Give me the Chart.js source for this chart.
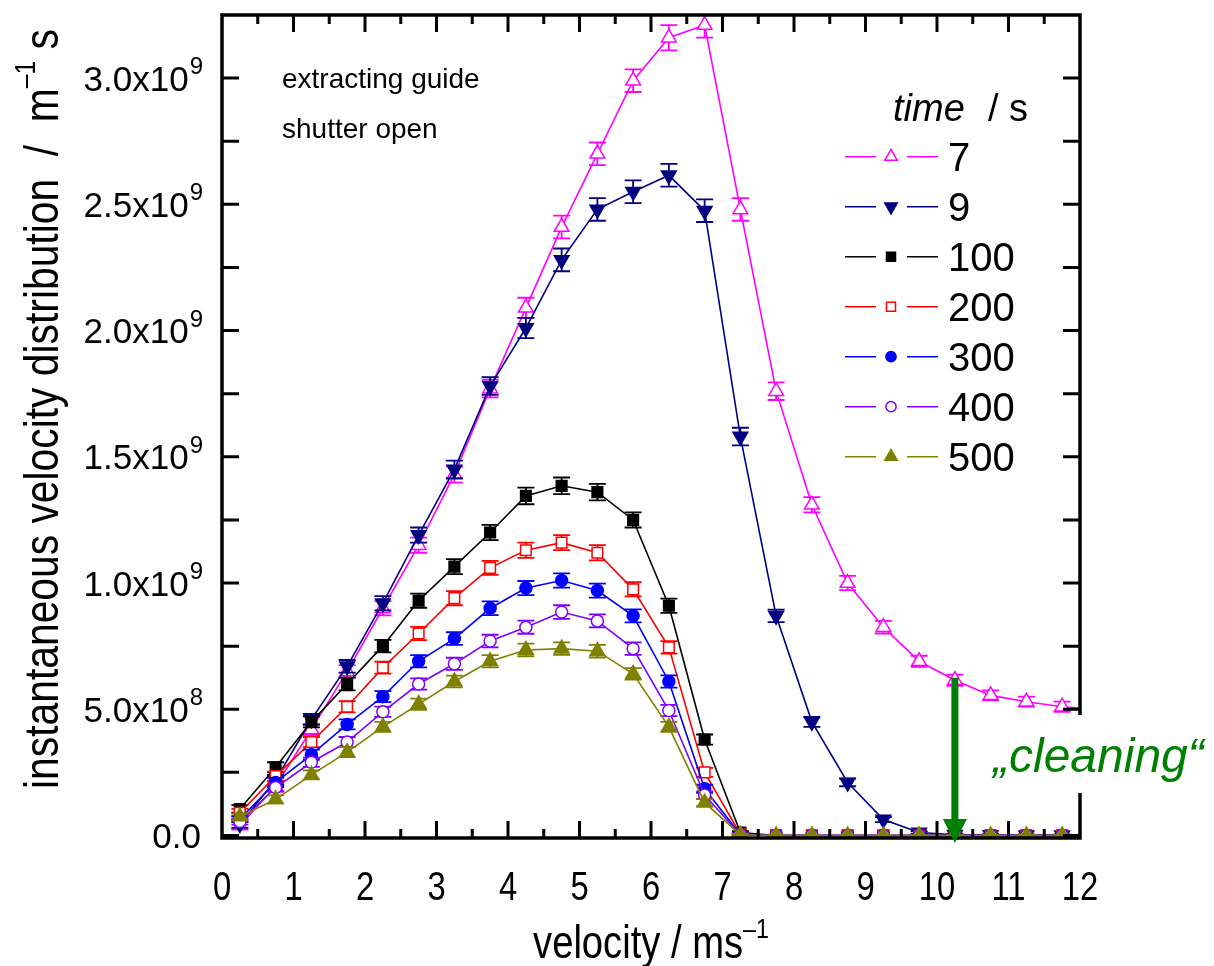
<!DOCTYPE html>
<html>
<head>
<meta charset="utf-8">
<title>instantaneous velocity distribution</title>
<script src="https://cdn.jsdelivr.net/npm/chart.js@4/dist/chart.umd.min.js"></script>
<style>
  html, body { margin: 0; padding: 0; background: #fff; }
  #wrap { width: 1214px; height: 966px; }
</style>
</head>
<body>
<div id="wrap"><canvas id="velChart" width="1214" height="966"></canvas></div>
<script>
// velocity bin centres in m/s
const velocity = [0.25, 0.75, 1.25, 1.75, 2.25, 2.75, 3.25, 3.75, 4.25, 4.75, 5.25, 5.75,
                  6.25, 6.75, 7.25, 7.75, 8.25, 8.75, 9.25, 9.75, 10.25, 10.75, 11.25, 11.75, 12.25];

// storage time of each curve (s)
const timeLabels = ['7', '9', '100', '200', '300', '400', '500'];

// distribution values and their errors, in units of 1e9 m^-1 s
const dist7   = [0.040, 0.195, 0.420, 0.650, 0.900, 1.150, 1.430, 1.770, 2.090, 2.410, 2.700, 2.990,
                 3.160, 3.210, 2.480, 1.760, 1.310, 1.000, 0.825, 0.690, 0.615, 0.555, 0.530, 0.510, 0.500];
const err7    = [0.015, 0.020, 0.022, 0.025, 0.028, 0.030, 0.032, 0.035, 0.040, 0.045, 0.045, 0.045,
                 0.050, 0.050, 0.045, 0.035, 0.030, 0.028, 0.025, 0.022, 0.022, 0.020, 0.020, 0.020, 0.020];

const dist9   = [0.045, 0.220, 0.460, 0.670, 0.920, 1.190, 1.450, 1.780, 2.010, 2.280, 2.480, 2.550,
                 2.615, 2.475, 1.580, 0.870, 0.450, 0.210, 0.063, 0.012, 0.003, 0.002, 0.001, 0.001, 0.001];
const err9    = [0.015, 0.020, 0.022, 0.025, 0.028, 0.030, 0.035, 0.035, 0.040, 0.045, 0.045, 0.045,
                 0.045, 0.045, 0.035, 0.025, 0.020, 0.015, 0.010, 0.005, 0.003, 0.003, 0.003, 0.003, 0.003];

const dist100 = [0.105, 0.270, 0.450, 0.600, 0.750, 0.930, 1.065, 1.200, 1.345, 1.385, 1.360, 1.250,
                 0.910, 0.380, 0.012, 0, 0, 0, 0, 0, 0, 0, 0, 0, 0];
const err100  = [0.015, 0.020, 0.022, 0.025, 0.025, 0.028, 0.030, 0.030, 0.033, 0.033, 0.033, 0.030,
                 0.028, 0.020, 0.005, 0.002, 0.002, 0.002, 0.002, 0.002, 0.002, 0.002, 0.002, 0.002, 0.002];

const dist200 = [0.090, 0.235, 0.370, 0.510, 0.665, 0.800, 0.940, 1.060, 1.130, 1.160, 1.120, 0.975,
                 0.745, 0.250, 0.005, 0, 0, 0, 0, 0, 0, 0, 0, 0, 0];
const err200  = [0.015, 0.018, 0.020, 0.022, 0.024, 0.026, 0.028, 0.028, 0.030, 0.030, 0.030, 0.028,
                 0.025, 0.018, 0.004, 0.002, 0.002, 0.002, 0.002, 0.002, 0.002, 0.002, 0.002, 0.002, 0.002];

const dist300 = [0.065, 0.210, 0.320, 0.440, 0.550, 0.690, 0.780, 0.900, 0.980, 1.010, 0.970, 0.870,
                 0.610, 0.185, 0.004, 0, 0, 0, 0, 0, 0, 0, 0, 0, 0];
const err300  = [0.012, 0.018, 0.020, 0.020, 0.022, 0.024, 0.025, 0.027, 0.028, 0.028, 0.028, 0.026,
                 0.024, 0.016, 0.004, 0.002, 0.002, 0.002, 0.002, 0.002, 0.002, 0.002, 0.002, 0.002, 0.002];

const dist400 = [0.055, 0.190, 0.290, 0.370, 0.490, 0.600, 0.680, 0.770, 0.825, 0.885, 0.850, 0.740,
                 0.495, 0.160, 0.003, 0, 0, 0, 0, 0, 0, 0, 0, 0, 0];
const err400  = [0.012, 0.016, 0.018, 0.020, 0.020, 0.022, 0.024, 0.025, 0.026, 0.027, 0.026, 0.025,
                 0.022, 0.015, 0.003, 0.002, 0.002, 0.002, 0.002, 0.002, 0.002, 0.002, 0.002, 0.002, 0.002];

const dist500 = [0.075, 0.143, 0.240, 0.330, 0.430, 0.520, 0.610, 0.690, 0.735, 0.740, 0.730, 0.640,
                 0.430, 0.130, 0.003, 0, 0, 0, 0, 0, 0, 0, 0, 0, 0];
const err500  = [0.012, 0.016, 0.018, 0.020, 0.020, 0.022, 0.023, 0.024, 0.025, 0.025, 0.025, 0.023,
                 0.020, 0.014, 0.003, 0.002, 0.002, 0.002, 0.002, 0.002, 0.002, 0.002, 0.002, 0.002, 0.002];

// axis tick labels
const xTickValues = [0, 1, 2, 3, 4, 5, 6, 7, 8, 9, 10, 11, 12];
const xTickLabels = ['0', '1', '2', '3', '4', '5', '6', '7', '8', '9', '10', '11', '12'];
const yTickValues = [0, 0.5, 1.0, 1.5, 2.0, 2.5, 3.0];
const yTickMantissa = ['0.0', '5.0x10', '1.0x10', '1.5x10', '2.0x10', '2.5x10', '3.0x10'];
const yTickExponent = ['', '8', '9', '9', '9', '9', '9'];

const FONT = '"Liberation Sans", Arial, Helvetica, sans-serif';
const GREEN = '#008000';

// one style per curve: colour, marker, filled or open
const seriesColors = ['#ff00ff', '#000080', '#000000', '#ff0000', '#0000ff', '#8000ff', '#808000'];
const seriesMarkers = [
  { style: 'triangle', rot: 0,   r: 8.5, filled: false },
  { style: 'triangle', rot: 180, r: 8.5, filled: true },
  { style: 'rect',     rot: 0,   r: 7.5, filled: true },
  { style: 'rect',     rot: 0,   r: 7.5, filled: false },
  { style: 'circle',   rot: 0,   r: 6,   filled: true },
  { style: 'circle',   rot: 0,   r: 6,   filled: false },
  { style: 'triangle', rot: 0,   r: 8.5, filled: true }
];
const seriesValues = [dist7, dist9, dist100, dist200, dist300, dist400, dist500];
const seriesErrors = [err7, err9, err100, err200, err300, err400, err500];

const datasets = seriesValues.map((vals, k) => {
  const m = seriesMarkers[k];
  return {
    label: timeLabels[k],
    data: vals.map((v, i) => ({ x: velocity[i], y: v })),
    errors: seriesErrors[k],
    borderColor: seriesColors[k],
    borderWidth: 1.6,
    tension: 0,
    fill: false,
    pointStyle: m.style,
    pointRotation: m.rot,
    pointRadius: m.r,
    pointBorderWidth: 1.5,
    pointBorderColor: seriesColors[k],
    pointBackgroundColor: m.filled ? seriesColors[k] : '#ffffff',
    // later curves are painted over earlier ones
    order: seriesValues.length - 1 - k
  };
});

// error bars drawn underneath each curve's markers
const errorBars = {
  id: 'errorBars',
  beforeDatasetDraw(chart, args) {
    const ds = chart.data.datasets[args.index];
    const { ctx, chartArea: a } = chart;
    const yScale = chart.scales.y;
    ctx.save();
    ctx.beginPath();
    ctx.rect(a.left, a.top, a.right - a.left, a.bottom - a.top);
    ctx.clip();
    ctx.strokeStyle = ds.borderColor;
    ctx.lineWidth = 1.8;
    args.meta.data.forEach((pt, i) => {
      const v = ds.data[i].y;
      const e = ds.errors[i];
      const yTop = yScale.getPixelForValue(v + e);
      const yBot = yScale.getPixelForValue(v - e);
      ctx.beginPath();
      ctx.moveTo(pt.x, yTop); ctx.lineTo(pt.x, yBot);
      ctx.moveTo(pt.x - 8.5, yTop); ctx.lineTo(pt.x + 8.5, yTop);
      ctx.moveTo(pt.x - 8.5, yBot); ctx.lineTo(pt.x + 8.5, yBot);
      ctx.stroke();
    });
    ctx.restore();
  }
};

// write a run of text pieces (normal / superscript) with horizontal squeeze
function partsWidth(ctx, parts) {
  let w = 0;
  for (const p of parts) {
    ctx.font = (p.italic ? 'italic ' : '') + p.size + 'px ' + FONT;
    w += ctx.measureText(p.text).width;
  }
  return w;
}
function drawParts(ctx, parts, x, y, sx) {
  let cx = 0;
  ctx.save();
  ctx.translate(x, y);
  ctx.scale(sx, 1);
  ctx.textAlign = 'left';
  ctx.textBaseline = 'alphabetic';
  for (const p of parts) {
    ctx.font = (p.italic ? 'italic ' : '') + p.size + 'px ' + FONT;
    ctx.fillText(p.text, cx, p.dy || 0);
    cx += ctx.measureText(p.text).width;
  }
  ctx.restore();
}

// frame with inward ticks on all four sides, tick labels, titles, legend, notes
const decorations = {
  id: 'decorations',
  afterDatasetsDraw(chart) {
    const { ctx, chartArea: a } = chart;
    const xs = chart.scales.x, ys = chart.scales.y;
    ctx.save();
    ctx.strokeStyle = '#000';
    ctx.fillStyle = '#000';

    // ticks
    ctx.lineWidth = 3;
    ctx.beginPath();
    for (let v = 0.5; v < 12; v += 0.5) {
      const px = xs.getPixelForValue(v);
      const len = Number.isInteger(v) ? 17 : 9;
      ctx.moveTo(px, a.bottom); ctx.lineTo(px, a.bottom - len);
      ctx.moveTo(px, a.top); ctx.lineTo(px, a.top + len);
    }
    for (let v = 0; v <= 3.0001; v += 0.25) {
      const py = ys.getPixelForValue(v);
      ctx.moveTo(a.left, py); ctx.lineTo(a.left + 17, py);
      ctx.moveTo(a.right, py); ctx.lineTo(a.right - 17, py);
    }
    ctx.stroke();
    ctx.lineWidth = 3.5;
    ctx.strokeRect(a.left, a.top, a.right - a.left, a.bottom - a.top);

    // x tick labels
    xTickValues.forEach((v, i) => {
      const px = xs.getPixelForValue(v);
      const parts = [{ text: xTickLabels[i], size: 40 }];
      const w = partsWidth(ctx, parts) * 0.82;
      drawParts(ctx, parts, px - w / 2, 900, 0.82);
    });

    // y tick labels with power-of-ten exponent
    ctx.textBaseline = 'alphabetic';
    yTickValues.forEach((v, i) => {
      const py = ys.getPixelForValue(v);
      const right = 203;
      ctx.font = '24px ' + FONT;
      const we = yTickExponent[i] ? ctx.measureText(yTickExponent[i]).width : 0;
      ctx.textAlign = 'left';
      if (we) ctx.fillText(yTickExponent[i], right - we, py - 4);
      ctx.font = '35px ' + FONT;
      ctx.textAlign = 'right';
      ctx.fillText(yTickMantissa[i], right - we - (we ? 1 : 2), py + 12.5);
    });

    // axis titles
    const xTitle = [
      { text: 'velocity / ms', size: 46 },
      { text: '\u20131', size: 28, dy: -20 }
    ];
    const xw = partsWidth(ctx, xTitle) * 0.83;
    drawParts(ctx, xTitle, (a.left + a.right) / 2 - xw / 2, 958, 0.83);

    const yTitle = [
      { text: 'instantaneous velocity distribution  /  m', size: 48 },
      { text: '\u20131', size: 29, dy: -23 },
      { text: ' s', size: 48 }
    ];
    const yw = partsWidth(ctx, yTitle) * 0.85;
    ctx.save();
    ctx.translate(58, 409);
    ctx.rotate(-Math.PI / 2);
    drawParts(ctx, yTitle, -yw / 2, 0, 0.85);
    ctx.restore();

    // note in the upper left
    ctx.textAlign = 'left';
    ctx.font = '28px ' + FONT;
    ctx.fillText('extracting guide', 282, 88);
    ctx.fillText('shutter open', 282, 138);

    // legend
    ctx.font = 'italic 38px ' + FONT;
    ctx.fillText('time', 893, 121);
    ctx.font = '38px ' + FONT;
    ctx.fillText('/ s', 988, 121);
    timeLabels.forEach((lab, k) => {
      const cy = 156.7 + 50 * k;
      const m = seriesMarkers[k];
      ctx.strokeStyle = seriesColors[k];
      ctx.lineWidth = 1.6;
      ctx.beginPath();
      ctx.moveTo(845, cy); ctx.lineTo(876, cy);
      ctx.moveTo(907, cy); ctx.lineTo(938, cy);
      ctx.stroke();
      ctx.fillStyle = m.filled ? seriesColors[k] : '#ffffff';
      ctx.lineWidth = 1.5;
      Chart.helpers.drawPoint(ctx, {
        pointStyle: m.style, rotation: m.rot, radius: m.r * 0.85, borderWidth: 1.5
      }, 891, cy);
      ctx.fillStyle = '#000';
      ctx.font = '40px ' + FONT;
      ctx.fillText(lab, 948, cy + 14);
    });

    // green arrow marking where the fast neutrons are removed
    const ax = xs.getPixelForValue(10.25);
    const aTop = ys.getPixelForValue(0.625);
    const aTip = ys.getPixelForValue(-0.03);
    ctx.strokeStyle = GREEN;
    ctx.fillStyle = GREEN;
    ctx.lineWidth = 7;
    ctx.beginPath();
    ctx.moveTo(ax, aTop); ctx.lineTo(ax, aTip - 22);
    ctx.stroke();
    ctx.beginPath();
    ctx.moveTo(ax - 12, aTip - 24);
    ctx.lineTo(ax + 12, aTip - 24);
    ctx.lineTo(ax, aTip);
    ctx.closePath();
    ctx.fill();

    // label box (white, hides the frame behind it)
    ctx.fillStyle = '#ffffff';
    ctx.fillRect(990, 715, 224, 78);
    ctx.fillStyle = GREEN;
    ctx.font = 'italic 48px ' + FONT;
    ctx.fillText('\u201ecleaning\u201c', 993, 772);

    ctx.restore();
  }
};

new Chart(document.getElementById('velChart').getContext('2d'), {
  type: 'line',
  data: { datasets: datasets },
  options: {
    responsive: false,
    animation: false,
    devicePixelRatio: 1,
    layout: { padding: { left: 222, right: 134, top: 15, bottom: 128 } },
    plugins: {
      legend: { display: false },
      tooltip: { enabled: false }
    },
    scales: {
      x: { type: 'linear', min: 0, max: 12, display: false },
      y: { type: 'linear', min: -0.01, max: 3.25, display: false }
    }
  },
  plugins: [errorBars, decorations]
});
</script>
</body>
</html>
